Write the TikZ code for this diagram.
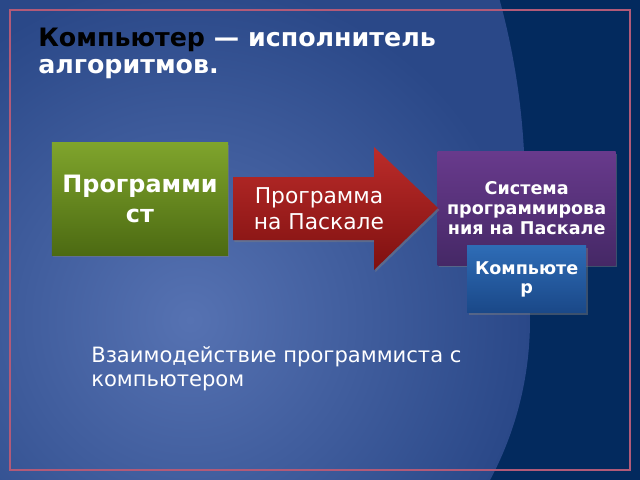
\documentclass[tikz,border=0pt]{standalone}
\usepackage{fontspec}
\setmainfont{DejaVu Sans}
\usepackage{tikz}
\usetikzlibrary{positioning}
\usetikzlibrary{shadows}
\definecolor{slidedark}{HTML}{032A5E}
\definecolor{slidemid}{HTML}{2A4888}
\definecolor{slidelight}{HTML}{5672B2}
\definecolor{framered}{HTML}{B25A78}
\definecolor{greentop}{HTML}{7FA42C}
\definecolor{greenbot}{HTML}{4C6A12}
\definecolor{redtop}{HTML}{BC2C2A}
\definecolor{redbot}{HTML}{7E1010}
\definecolor{violettop}{HTML}{683A8C}
\definecolor{violetbot}{HTML}{452866}
\definecolor{bluetop}{HTML}{2E6CB6}
\definecolor{bluebot}{HTML}{1A4888}
\tikzset{node distance=1cm, % Default distance between nodes
box/.style={ % Common look of the coloured boxes
inner sep=0pt,
align=center,
text=white,
font=\bfseries,
drop shadow={shadow xshift=1pt, shadow yshift=-1.5pt, opacity=0.45}},
greenbox/.style={box, top color=greentop, bottom color=greenbot,
minimum width=4.4cm, minimum height=2.8cm},
violetbox/.style={box, top color=violettop, bottom color=violetbot,
minimum width=4.45cm, minimum height=2.825cm},
bluebox/.style={box, top color=bluetop, bottom color=bluebot,
minimum width=2.975cm, minimum height=1.675cm},
plaintext/.style={ % Plain white text on the slide
inner sep=0pt,
text=white,
align=left}}

\begin{document}
\begin{tikzpicture}[x=0.025cm, y=-0.025cm]
                \useasboundingbox (0,0) rectangle (640,480);
                % background of the slide
                \fill[slidedark] (0,0) rectangle (640,480);
                \begin{scope}
                \clip (0,0) rectangle (640,480);
                \fill[slidemid] (-195,190) circle (720);
                \shade[inner color=slidelight, outer color=slidemid] (190,320) circle (340);
                \end{scope}
                \draw[framered, line width=0.8pt] (10,10) rectangle (630,470);

                % title (base is the baseline of the last line)
                \node[plaintext, anchor=base west, font=\bfseries\fontsize{18}{18.5}\selectfont] (title) at (38,73)
                {\textcolor{black}{Компьютер} — исполнитель\\алгоритмов.};

                % boxes
                \node[greenbox, font=\bfseries\fontsize{17}{21.3}\selectfont] (prog) at (140,199) {Программи\\ст};
                \node[violetbox, right=5.225cm of prog, yshift=-0.2375cm, font=\bfseries\fontsize{12.5}{14.2}\selectfont] (system)
                {Система\\программирова\\ния на Паскале};
                \node[bluebox, below=-0.5cm of system, font=\bfseries\fontsize{12.5}{13.5}\selectfont] (comp) {Компьюте\\р};

                % arrow between the programmer and the system
                \coordinate (tail) at (233,208);
                \coordinate (tip) at (438,208);
                \shade[top color=redtop, bottom color=redbot, drop shadow={shadow xshift=1pt, shadow yshift=-1.5pt, opacity=0.45}]
                (tail) ++(0,-31) -- ++(141,0) -- ++(0,-30) -- (tip) -- ++(-64,62) -- ++(0,-30) -- ++(-141,0) -- cycle;
                \node[plaintext, align=center, font=\fontsize{15.5}{18.5}\selectfont] (code) at (319,209) {Программа\\на Паскале};

                % caption
                \node[plaintext, anchor=base west, font=\fontsize{15}{17}\selectfont] (caption) at (91,386)
                {Взаимодействие программиста с\\компьютером};
            \end{tikzpicture}
\end{document}
